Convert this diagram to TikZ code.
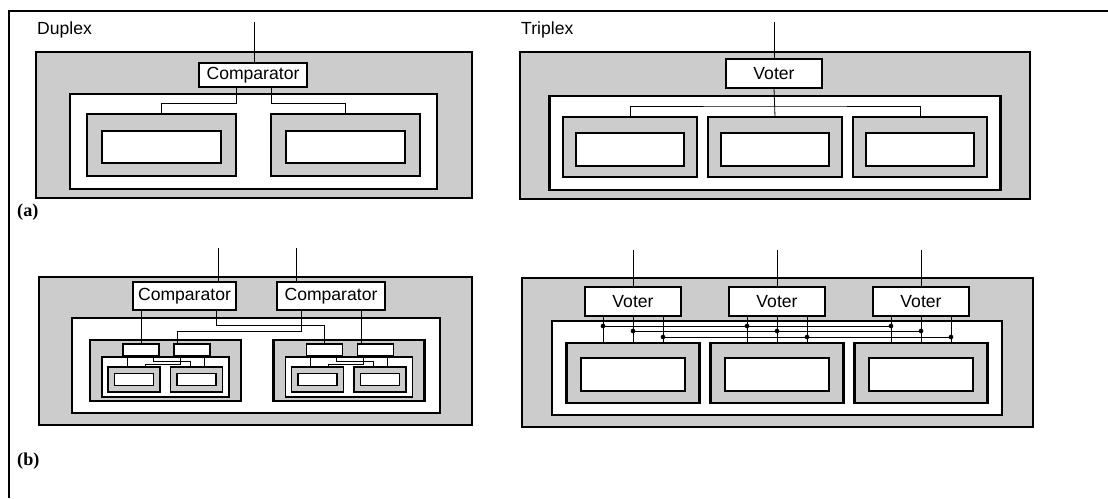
\documentclass[tikz,border=0pt]{standalone}
\usepackage{fontspec}
\setmainfont{Liberation Sans}
\newfontfamily\tagfont{Liberation Serif}
\usetikzlibrary{calc}
\definecolor{PanelGray}{RGB}{204,204,204}

\begin{document}
\begin{tikzpicture}[x=0.03cm,y=-0.03cm,
  sz/.style 2 args={minimum width=#1*0.03cm,minimum height=#2*0.03cm},
  panel/.style={draw,line width=2.2pt,fill=PanelGray,inner sep=0pt,outer sep=0pt},
  frame/.style={draw,line width=1.8pt,fill=white,inner sep=0pt,outer sep=0pt},
  module/.style={draw,line width=2.2pt,fill=PanelGray,inner sep=0pt,outer sep=0pt},
  cell/.style={draw,line width=1.8pt,fill=white,inner sep=0pt,outer sep=0pt},
  unit/.style={draw,line width=1.6pt,fill=white,inner sep=0pt,outer sep=0pt,
               font=\fontsize{15}{17}\selectfont},
  minibox/.style={draw,line width=1.1pt,fill=white,inner sep=0pt,outer sep=0pt},
  miniframe/.style={draw,line width=1.4pt,fill=white,inner sep=0pt,outer sep=0pt},
  minimod/.style={draw,line width=1.4pt,fill=PanelGray,inner sep=0pt,outer sep=0pt},
  wire/.style={line width=0.7pt},
  tag/.style={font=\fontsize{15}{17}\selectfont,inner sep=0pt,anchor=west},
  ptag/.style={font=\tagfont\bfseries\fontsize{15.5}{17}\selectfont,inner sep=0pt,anchor=west},
]
\useasboundingbox (0,0) rectangle (1108,498);
\draw[line width=0.9pt] (9,498) -- (9,11) -- (1108,11);

\node[tag] (dupAtitle) at (37,30) {Duplex};
\node[tag] (triAtitle) at (521,30) {Triplex};
\node[ptag] (partA) at (17,212) {(a)};
\node[ptag] (partB) at (17,461) {(b)};

% (a) duplex
\node[panel,sz={436}{146}] (dupA) at (254,125) {};
\node[frame,sz={367}{95}] (dupAfrm) at (253.5,141.5) {};
\foreach \s/\dx in {L/-92,R/92} {
  \node[module,sz={149}{62}] (dupA\s) at (253.5+\dx,145) {};
  \node[cell,sz={119}{32}] (dupAcell\s) at (253.5+\dx,147) {};
}
\node[unit,sz={108}{24}] (cmpA) at (253,75) {Comparator};
\coordinate (inA1) at (254,22);
\draw[wire] (inA1) -- (inA1 |- cmpA.north);
\draw[wire] ($(cmpA.south)+(-17,0)$) |- ($(dupAL.north)+(0,-11)$) -- (dupAL.north);
\draw[wire] ($(cmpA.south)+(18,0)$) |- ($(dupAR.north)+(0,-11)$) -- (dupAR.north);

% (a) triplex
\node[panel,sz={510}{147}] (triA) at (775,125.5) {};
\node[frame,sz={451}{94}] (triAfrm) at (775,143) {};
\foreach \i/\dx in {1/-145,2/0,3/145} {
  \node[module,sz={134}{60}] (triA\i) at (775+\dx,147) {};
  \node[cell,sz={108}{33}] (triAcell\i) at (775+\dx,149.5) {};
}
\node[unit,sz={96}{29}] (votA) at (774,73.5) {Voter};
\coordinate (inA2) at (774,22);
\draw[wire] (inA2) -- (votA.north);
\draw[wire] (votA.south) -- (triA2.north);
\draw[wire] (triA1.north) |- ($(triA2.north)+(0,-11)$) -| (triA3.north);

% (b) duplex of duplexes
\node[panel,sz={433}{148}] (dupB) at (255.5,351) {};
\node[frame,sz={368}{95}] (dupBfrm) at (256,365.5) {};
\foreach \s/\cx in {L/165.5,R/349} {
  \node[module,sz={151}{61}] (dupB\s) at (\cx,370.5) {};
  \node[minibox,sz={36}{12}] (sbB\s1) at (\cx-24.5,350) {};
  \node[minibox,sz={36}{12}] (sbB\s2) at (\cx+26.5,350) {};
  \node[miniframe,sz={127}{40}] (frmB\s) at (\cx,377) {};
  \node[minimod,sz={52}{25}] (subB\s1) at (\cx-31.5,379.5) {};
  \node[minimod,sz={52}{25}] (subB\s2) at (\cx+31,379.5) {};
  \node[minibox,sz={39}{12}] (subcB\s1) at (\cx-31.5,379.5) {};
  \node[minibox,sz={39}{12}] (subcB\s2) at (\cx+31,379.5) {};
  \draw[wire] ($(sbB\s1.south)+(-14,0)$) -- ($(subB\s1.north)+(-7,0)$);
  \draw[wire] ($(sbB\s1.south)+(12,0)$) |- ($(subB\s2.north)+(-6.5,-6)$) -- ($(subB\s2.north)+(-6.5,0)$);
  \draw[wire] ($(sbB\s2.south)+(-12,0)$) |- ($(subB\s1.north)+(11,-3)$) -- ($(subB\s1.north)+(11,0)$);
  \draw[wire] ($(sbB\s2.south)+(12,0)$) -- ($(subB\s2.north)+(7.5,0)$);
}
\node[unit,sz={103}{28}] (cmpBL) at (184.5,296) {Comparator};
\node[unit,sz={108}{28}] (cmpBR) at (331,296) {Comparator};
\coordinate (inB1) at (218,248);
\coordinate (inB2) at (296,248);
\draw[wire] (inB1) -- (inB1 |- cmpBL.north);
\draw[wire] (inB2) -- (inB2 |- cmpBR.north);
\draw[wire] (sbBL1.north |- cmpBL.south) -- (sbBL1.north);
\draw[wire] ($(cmpBL.south)+(31.5,0)$) |- ($(sbBR1.north)+(0,-19)$) -- (sbBR1.north);
\draw[wire] ($(cmpBR.south)+(-30,0)$) |- ($(sbBL2.north)+(-15,-13)$) -- ($(sbBL2.north)+(-15,0)$);
\draw[wire] ($(cmpBR.south)+(30,0)$) -- ($(sbBR2.north)+(-14.5,0)$);

% (b) triplex with three voters
\node[panel,sz={511}{149}] (triB) at (777.5,352.5) {};
\node[frame,sz={450}{94}] (triBfrm) at (777,368) {};
\foreach \i/\cx in {1/633,2/777,3/921} {
  \node[module,sz={133}{60}] (triB\i) at (\cx,373) {};
  \node[cell,sz={104}{33}] (triBcell\i) at (\cx,374.5) {};
  \node[unit,sz={96}{29}] (votB\i) at (\cx,301.5) {Voter};
  \coordinate (inT\i) at (\cx,250);
  \draw[wire] (inT\i) -- (votB\i.north);
  \foreach \dx in {-30,0,30}
    \draw[wire] ($(votB\i.south)+(\dx,0)$) -- ($(triB\i.north)+(\dx,0)$);
}
\foreach \dx/\dy in {-30/10,0/15,30/21} {
  \draw[wire] ($(votB1.south)+(\dx,\dy)$) -- ($(votB3.south)+(\dx,\dy)$);
  \foreach \i in {1,2,3}
    \fill ($(votB\i.south)+(\dx,\dy)$) circle (2pt);
}
\end{tikzpicture}
\end{document}
